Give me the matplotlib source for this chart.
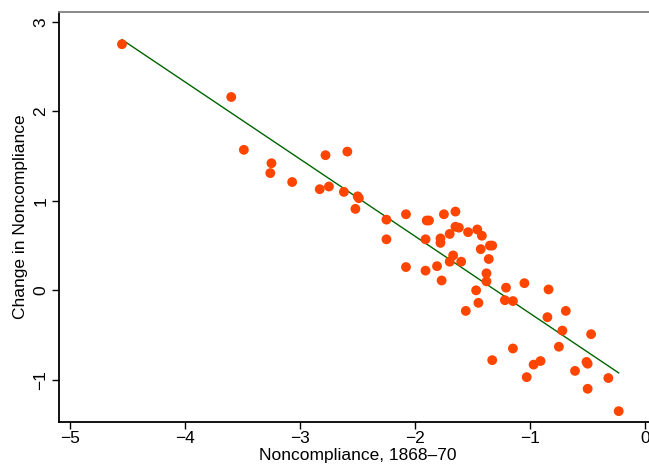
import numpy as np
import matplotlib
matplotlib.use("Agg")
import matplotlib.pyplot as plt

plt.rcParams["font.family"] = ["Liberation Sans", "DejaVu Sans"]

# ==== data ====
noncomp_1868 = [
    -4.55, -3.60, -3.49, -3.25, -3.26, -3.07, -2.78, -2.59, -2.83, -2.75,
    -2.62, -2.50, -2.49, -2.52, -2.25, -2.25, -2.08, -2.08, -1.90, -1.88,
    -1.75, -1.65, -1.65, -1.62, -1.70, -1.54, -1.46, -1.42, -1.78, -1.78,
    -1.91, -1.43, -1.35, -1.33, -1.36, -1.67, -1.70, -1.60, -1.81, -1.91,
    -1.77, -1.38, -1.38, -1.21, -1.05, -0.84, -1.47, -1.45, -1.22, -1.15,
    -1.56, -0.69, -0.85, -0.72, -0.47, -0.75, -1.15, -1.33, -0.91, -0.97,
    -0.51, -0.50, -0.61, -0.32, -1.03, -0.50, -0.23,
]
change_noncomp = [
    2.75, 2.16, 1.57, 1.42, 1.31, 1.21, 1.51, 1.55, 1.13, 1.16,
    1.10, 1.05, 1.03, 0.91, 0.79, 0.57, 0.85, 0.26, 0.78, 0.78,
    0.85, 0.88, 0.71, 0.70, 0.63, 0.65, 0.68, 0.61, 0.58, 0.53,
    0.57, 0.46, 0.50, 0.50, 0.35, 0.39, 0.32, 0.32, 0.27, 0.22,
    0.11, 0.19, 0.10, 0.03, 0.08, 0.01, 0.00, -0.14, -0.11, -0.12,
    -0.23, -0.23, -0.30, -0.45, -0.49, -0.63, -0.65, -0.78, -0.79, -0.83,
    -0.80, -0.82, -0.90, -0.98, -0.97, -1.10, -1.35,
]
xticks = [-5, -4, -3, -2, -1, 0]
yticks = [-1, 0, 1, 2, 3]

x = np.array(noncomp_1868)
y = np.array(change_noncomp)

# ==== fitted line ====
slope, intercept = np.polyfit(x, y, 1)
xs = np.array([x.min(), x.max()])

fig = plt.figure(figsize=(6.49, 4.65), dpi=100)
ax = fig.add_axes([0.0914, 0.0931, 0.9086 + 0.01, 0.8817])

ax.plot(xs, intercept + slope * xs, color="#006400", lw=1.0, zorder=2)
ax.scatter(x, y, s=50, color="#ff4500", edgecolors="none", zorder=3)

ax.set_xlim(-5.095, 0.09)
ax.set_ylim(-1.468, 3.113)
ax.set_xticks(xticks)
ax.set_yticks(yticks)
ax.set_xticklabels([f"\u2212{abs(t)}" if t < 0 else str(t) for t in xticks])
ax.set_yticklabels([f"\u2212{abs(t)}" if t < 0 else str(t) for t in yticks],
                   rotation=90, va="center")
ax.tick_params(direction="out", length=5, width=1, labelsize=12.5, colors="black")
ax.tick_params(axis="x", pad=2)
ax.tick_params(axis="y", pad=3)

for s in ["left", "bottom"]:
    ax.spines[s].set_linewidth(1.3)
    ax.spines[s].set_color("black")
ax.spines["top"].set_color("#808080")
ax.spines["top"].set_linewidth(1.3)
ax.spines["right"].set_visible(False)

ax.set_xlabel("Noncompliance, 1868\u201370", fontsize=12.5, labelpad=1)
ax.set_ylabel("Change in Noncompliance", fontsize=12.5, labelpad=4)

fig.savefig("out.png", dpi=100)
